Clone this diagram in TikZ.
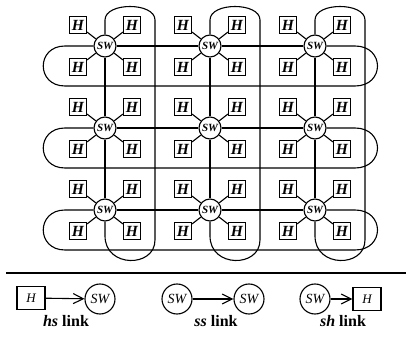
\documentclass[tikz,border=0pt]{standalone}
\usepackage{fontspec}
\setmainfont{Liberation Serif}
\usetikzlibrary{arrows.meta}

\begin{document}
\begin{tikzpicture}[x=1pt, y=-1pt, line width=1.1pt,
  sw/.style={draw, circle, fill=white, minimum size=22pt, inner sep=0pt, font=\fontsize{11}{11}\selectfont\bfseries\itshape},
  host/.style={draw, fill=white, minimum size=17pt, inner sep=0pt, font=\fontsize{15.5}{15.5}\selectfont\bfseries\itshape},
  lsw/.style={draw, circle, minimum size=30pt, inner sep=0pt, font=\fontsize{14}{14}\selectfont\itshape},
  lhost/.style={draw, minimum width=28pt, minimum height=23pt, inner sep=0pt, font=\fontsize{13}{13}\selectfont\itshape},
  lbl/.style={font=\fontsize{16}{16}\selectfont\bfseries},
  lnk/.style={-{Straight Barb[length=10pt, width=10pt]}}
]
\useasboundingbox (0,0) rectangle (408,337);

% switches with their hosts
\foreach \r/\y in {1/46, 2/128, 3/210}
  \foreach \c/\x in {1/105, 2/210, 3/315} {
    \node[sw] (sw\r\c) at (\x,\y) {SW};
    \foreach \k/\dx/\dy in {a/-27/-21, b/27/-21, c/-27/21, d/27/21} {
      \node[host] (h\r\c\k) at (\x+\dx,\y+\dy) {H};
      \draw (sw\r\c) -- (h\r\c\k);
    }
  }

% switch to switch links
\foreach \r in {1,2,3} {
  \draw (sw\r1) -- (sw\r2);
  \draw (sw\r2) -- (sw\r3);
  \draw (sw1\r) -- (sw2\r);
  \draw (sw2\r) -- (sw3\r);
}

% wrap-around rows
\foreach \r/\y in {1/46, 2/128, 3/210}
  \draw (sw\r1.west) -- (65,\y) .. controls (36,\y) and (36,\y+40) .. (65,\y+40)
    -- (355,\y+40) .. controls (385,\y+40) and (385,\y) .. (355,\y) -- (sw\r3.east);

% wrap-around columns
\foreach \c/\x in {1/105, 2/210, 3/315}
  \draw (sw1\c.north) -- (\x,20) .. controls (\x,2) and (\x+50,2) .. (\x+50,20)
    -- (\x+50,240) .. controls (\x+50,268) and (\x,268) .. (\x,236) -- (sw3\c.south);

\draw[line width=1.4pt] (6,273) -- (406,273);

% legend
\node[lhost] (lh1) at (31,298) {H};
\node[lsw] (ls1) at (100,299) {SW};
\node[lbl] (lt1) at (66,321) {\textit{hs} link};
\node[lsw] (ls2) at (177,299) {SW};
\node[lsw] (ls3) at (249,299) {SW};
\node[lbl] (lt2) at (216,321) {\textit{ss} link};
\node[lsw] (ls4) at (315,299) {SW};
\node[lhost] (lh2) at (367,299) {H};
\node[lbl] (lt3) at (343,321) {\textit{sh} link};

\draw[lnk] (lh1) -- (ls1);
\draw[lnk] (ls2) -- (ls3);
\draw[lnk] (ls4) -- (lh2);
\end{tikzpicture}
\end{document}
